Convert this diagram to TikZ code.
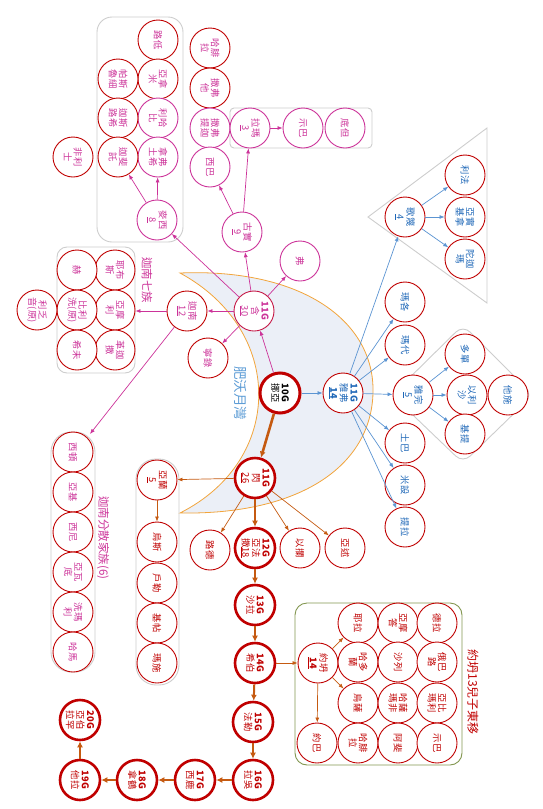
\documentclass[tikz,border=0pt]{standalone}
\usepackage{fontspec}
\setmainfont{Noto Sans CJK TC}
\usetikzlibrary{arrows.meta}
\definecolor{cred}{RGB}{192,0,0}
\definecolor{cham}{RGB}{204,51,153}
\definecolor{cjap}{RGB}{31,104,184}
\definecolor{cjarr}{RGB}{91,148,210}
\definecolor{csem}{RGB}{197,90,17}
\definecolor{cres}{RGB}{235,239,247}
\definecolor{corng}{RGB}{242,165,60}
\definecolor{cbox}{RGB}{205,205,205}
\definecolor{cjok}{RGB}{130,150,80}
\definecolor{cmoon}{RGB}{91,155,213}
\tikzset{
  pn/.style={circle, draw=cred, line width=0.9pt, fill=white, minimum size=40pt, inner sep=0pt,
    rotate=-90, align=center, font=\fontsize{9.3}{10.2}\selectfont},
  hn/.style={pn, text=cham},
  hm/.style={hn, draw=cham},
  jn/.style={pn, text=cjap},
  sn/.style={pn, text=cred},
  gn/.style={sn, line width=2.6pt},
  grp/.style={draw=cbox, line width=0.9pt, rounded corners=10pt, inner sep=0pt},
  lbl/.style={rotate=-90, font=\fontsize{11.5}{12}\selectfont},
  harr/.style={draw=cham, line width=0.7pt, -{Latex[length=5pt,width=4pt]}},
  jarr/.style={draw=cjarr, line width=0.7pt, -{Latex[length=5pt,width=4pt]}},
  sarr/.style={draw=csem, line width=0.7pt, -{Latex[length=5pt,width=4pt]}},
  marr/.style={draw=csem, line width=2pt, -{Latex[length=6pt,width=6pt]}},
}
\begin{document}
\begin{tikzpicture}[x=1pt, y=-1pt]
\useasboundingbox (0,0) rectangle (543,809);

\filldraw[fill=cres, draw=corng, line width=0.8pt] (180,273) .. controls (300,268) and (375,320) .. (373,393)
  .. controls (371,466) and (300,515) .. (180,513) .. controls (285,460) and (285,330) .. (180,273) -- cycle;
\node[lbl, text=cmoon, font=\fontsize{13.5}{14}\selectfont] (moon) at (241,393) {肥沃月灣};

\node[grp, rounded corners=15pt, minimum width=86, minimum height=225] (mizrbox) at (140,129.5) {};
\node[grp, rounded corners=4pt, minimum width=142, minimum height=40] (raambox) at (301,128) {};
\node[grp, minimum width=78, minimum height=126] (sevenbox) at (96,310) {};
\node[grp, rounded corners=20pt, minimum width=44, minimum height=240] (dispbox) at (73,552) {};
\node[grp, rounded corners=20pt, minimum width=43, minimum height=226] (arambox) at (157.5,572) {};
\node[grp, draw=cjok, rounded corners=12pt, minimum width=167, minimum height=162] (jokbox) at (378.5,684) {};
\draw[cbox, line width=0.9pt] (368,217) -- (487,128) -- (487,303) -- cycle;
\draw[cbox, line width=0.9pt, rounded corners=10pt] (392,395) -- (463,325) -- (533,395) -- (463,463) -- cycle;

\node[lbl, text=cham] (sevenlbl) at (147,280) {迦南七族};
\node[lbl, text=cham] (displbl) at (103,538) {迦南分散家族(6)};
\node[lbl, text=cred, font=\fontsize{12}{13}\selectfont] (joklbl) at (473,692) {約坍13兒子東移};

\node[gn, text=black, line width=3pt] (noah) at (280,393) {\textbf{10G}\\挪亞};

\node[hn, draw=cred!55!cham] (ham) at (254,311) {\textbf{11G}\\含\\\underline{30}};
\node[hm] (mizr) at (157,220) {麥西\\\underline{8}};
\node[hn] (ludim) at (158,40) {路低};
\node[hn] (anamim) at (158,79) {亞拿\\米};
\node[hn] (pathrus) at (118,79) {帕斯\\魯細};
\node[hm] (lehabim) at (158,118) {利哈\\比};
\node[hn] (casluh) at (118,118) {迦斯\\路希};
\node[hm] (naphtuh) at (158,157) {拿弗\\土希};
\node[hn] (caphtor) at (118,157) {迦斐\\託};
\node[hn] (philist) at (73,157) {非利\\士};
\node[hn] (havilah) at (210,48) {哈腓\\拉};
\node[hn] (sabtah) at (210,88) {撒弗\\他};
\node[hm] (sabteca) at (210,128) {撒弗\\提迦};
\node[hm] (seba) at (210,167) {西巴};
\node[hm] (raamah) at (250,128) {拉瑪\\\underline{3}};
\node[hm] (shebaa) at (303,128) {示巴};
\node[hm] (dedan) at (345,128) {底但};
\node[hm] (cush) at (242,232) {古實\\\underline{9}};
\node[hm] (phut) at (300,261) {弗};
\node[hn] (canaan) at (187,311) {迦南\\\underline{12}};
\node[hn] (nimrod) at (208,358) {寧錄};
\node[hn] (jebus) at (115,270) {耶布\\斯};
\node[hn] (heth) at (77,270) {赫};
\node[hn] (amor) at (115,310) {亞摩\\利};
\node[hn] (periz) at (77,310) {比利\\洗(原)};
\node[hn] (girgas) at (115,350) {革迦\\撒};
\node[hn] (hivite) at (77,350) {希未};
\node[hn] (rephaim) at (37,310) {利乏\\音(原)};
\node[hn] (sidon) at (73,452) {西頓};
\node[hn] (arkite) at (73,492) {亞基};
\node[hn] (sinite) at (73,532) {西尼};
\node[hn] (arvad) at (73,572) {亞瓦\\底};
\node[hn] (zemar) at (73,612) {洗瑪\\利};
\node[hn] (hamath) at (73,652) {哈馬};
\coordinate (dispin) at (90,434);

\node[jn] (japheth) at (343,393) {\textbf{11G}\\雅弗\\\underline{\textbf{14}}};
\node[jn] (gomer) at (405,217) {歌篾\\\underline{4}};
\node[jn] (riphath) at (465,175) {利法};
\node[jn] (ashken) at (465,217) {亞實\\基拿};
\node[jn] (togar) at (465,259) {陀迦\\瑪};
\node[jn] (magog) at (405,302) {瑪各};
\node[jn] (madai) at (405,345) {瑪代};
\node[jn] (javan) at (413,395) {雅完\\\underline{5}};
\node[jn] (dodan) at (465,354) {多單};
\node[jn] (elishah) at (467,395) {以利\\沙};
\node[jn] (tarshish) at (508,395) {他施};
\node[jn] (kittim) at (465,434) {基提};
\node[jn] (tubal) at (405,443) {土巴};
\node[jn] (meshech) at (405,485) {米設};
\node[jn] (tiras) at (405,527) {提拉};

\node[gn] (shem) at (255,478) {\textbf{11G}\\閃\\\underline{26}};
\node[sn] (aram) at (157,480) {亞蘭\\\underline{5}};
\node[sn] (uz) at (157,542) {烏斯};
\node[sn] (hul) at (157,583) {戶勒};
\node[sn] (gether) at (157,623) {基帖};
\node[sn] (mash) at (157,663) {瑪施};
\node[sn] (lud) at (210,550) {路德};
\node[gn] (arpha) at (255,548) {\textbf{12G}\\亞法\\撒\underline{18}};
\node[sn] (elam) at (300,548) {以攔};
\node[sn] (asshur) at (345,548) {亞述};
\node[gn] (shelah) at (255,605) {\textbf{13G}\\沙拉};
\node[gn] (eber) at (255,663) {\textbf{14G}\\希伯};
\node[sn] (joktan) at (318,663) {約坍\\\underline{\textbf{14}}};
\node[gn] (peleg) at (253,722) {\textbf{15G}\\法勒};
\node[gn] (reu) at (253,780) {\textbf{16G}\\拉吳};
\node[gn] (serug) at (195,780) {\textbf{17G}\\西鹿};
\node[gn] (nahor) at (137,780) {\textbf{18G}\\拿鶴};
\node[gn] (terah) at (80,780) {\textbf{19G}\\他拉};
\node[gn] (abram) at (80,720) {\textbf{20G}\\亞伯\\拉罕};
\node[sn] (jerah) at (358,623) {耶拉};
\node[sn] (almodad) at (398,623) {亞摩\\答};
\node[sn] (diklah) at (437,623) {德拉};
\node[sn] (hadoram) at (358,662) {哈多\\蘭};
\node[sn] (sheleph) at (398,662) {沙列};
\node[sn] (obal) at (437,662) {俄巴\\路};
\node[sn] (uzal) at (358,703) {烏薩};
\node[sn] (hazar) at (398,703) {哈薩\\瑪非};
\node[sn] (abimael) at (437,703) {亞比\\瑪利};
\node[sn] (jobab) at (317,743) {約巴};
\node[sn] (havilahb) at (358,743) {哈腓\\拉};
\node[sn] (ophir) at (398,743) {阿斐};
\node[sn] (shebab) at (437,743) {示巴};

\draw[harr] (noah) -- (ham);
\draw[harr] (ham) -- (cush);
\draw[harr] (ham) -- (phut);
\draw[harr] (ham) -- (canaan);
\draw[harr] (ham) -- (nimrod);
\draw[harr] (ham) -- (mizr);
\draw[harr] (mizr) -- (caphtor);
\draw[harr] (mizr) -- (naphtuh);
\draw[harr] (cush) -- (seba);
\draw[harr] (cush) -- (raamah);
\draw[harr] (raamah) -- (shebaa);
\draw[harr] (canaan) -- (sevenbox.east |- canaan);
\draw[harr] (canaan) -- (dispin);

\draw[jarr] (noah) -- (japheth);
\foreach \s in {gomer, magog, madai, javan, tubal, meshech, tiras}
  \draw[jarr] (japheth) -- (\s);
\foreach \s in {riphath, ashken, togar}
  \draw[jarr] (gomer) -- (\s);
\foreach \s in {dodan, elishah, kittim}
  \draw[jarr] (javan) -- (\s);

\draw[marr, line width=2.6pt] (noah) -- (shem);
\draw[sarr] (shem) -- (aram);
\draw[sarr] (aram) -- (uz);
\draw[sarr] (shem) -- (lud);
\draw[sarr] (shem) -- (elam);
\draw[sarr] (shem) -- (asshur);
\draw[marr] (shem) -- (arpha);
\draw[marr] (arpha) -- (shelah);
\draw[marr] (shelah) -- (eber);
\draw[sarr] (eber) -- (joktan);
\draw[sarr] (joktan) -- (jerah);
\draw[sarr] (joktan) -- (uzal);
\draw[sarr] (joktan) -- (jobab);
\draw[marr] (eber) -- (peleg);
\draw[marr] (peleg) -- (reu);
\draw[marr] (reu) -- (serug);
\draw[marr] (serug) -- (nahor);
\draw[marr] (nahor) -- (terah);
\draw[marr] (terah) -- (abram);
\end{tikzpicture}
\end{document}
